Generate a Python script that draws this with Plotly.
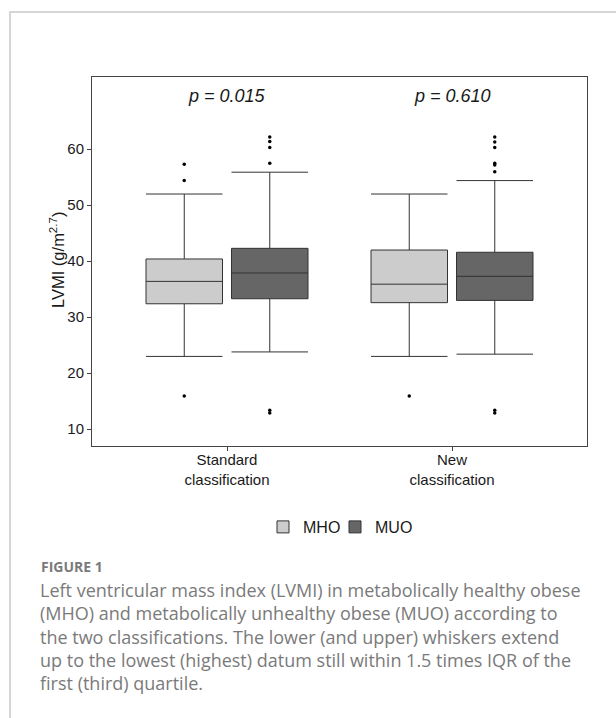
import plotly.graph_objects as go

# ---- data ----
categories = ["Standard<br>classification", "New<br>classification"]
groups = ["MHO", "MUO"]

mho_low = [23.0, 23.0]
mho_q1 = [32.4, 32.6]
mho_median = [36.4, 35.9]
mho_q3 = [40.4, 42.0]
mho_high = [52.0, 52.0]

muo_low = [23.8, 23.4]
muo_q1 = [33.3, 33.0]
muo_median = [37.9, 37.3]
muo_q3 = [42.3, 41.6]
muo_high = [55.9, 54.4]

mho_outliers = [[57.3, 54.4, 15.95], [15.95]]
muo_outliers = [[62.2, 61.4, 60.3, 57.5, 13.4, 12.9],
                [62.2, 61.3, 60.3, 57.5, 57.2, 56.0, 13.4, 12.9]]

p_values = ["p = 0.015", "p = 0.610"]
y_ticks = [10, 20, 30, 40, 50, 60]

caption_title = "FIGURE 1"
caption_lines = [
    "Left ventricular mass index (LVMI) in metabolically healthy obese",
    "(MHO) and metabolically unhealthy obese (MUO) according to",
    "the two classifications. The lower (and upper) whiskers extend",
    "up to the lowest (highest) datum still within 1.5 times IQR of the",
    "first (third) quartile.",
]

# ---- layout constants ----
W, H = 616, 718
L, R, T, B = 92, 587, 77, 446
offset = 0.19
box_w = 0.34
fills = {"MHO": "#cccccc", "MUO": "#666666"}
legend_ids = {"MHO": "legend", "MUO": "legend2"}
legend_x = {"MHO": 263, "MUO": 335}
line_col = "#333333"
axis_font = "Liberation Sans"
cap_font = "Open Sans"
cap_col = "#7a7a7a"

def px_x(px):
    return (px - L) / (R - L)

def px_y(py):
    return (B - py) / (B - T)

idx = list(range(len(categories)))
fig = go.Figure()

stats = {
    "MHO": (mho_low, mho_q1, mho_median, mho_q3, mho_high, mho_outliers, -offset),
    "MUO": (muo_low, muo_q1, muo_median, muo_q3, muo_high, muo_outliers, offset),
}

for g in groups:
    lo, q1, med, q3, hi, outl, off = stats[g]
    xs = [i + off for i in idx]
    fig.add_trace(go.Box(
        name=g, x=xs, q1=q1, median=med, q3=q3,
        lowerfence=lo, upperfence=hi,
        width=box_w, whiskerwidth=1, boxpoints=False,
        fillcolor=fills[g], line=dict(color=line_col, width=1),
        hoverinfo="skip", legend=legend_ids[g],
    ))

for g in groups:
    lo, q1, med, q3, hi, outl, off = stats[g]
    ox, oy = [], []
    for i, vals in zip(idx, outl):
        for v in vals:
            ox.append(i + off)
            oy.append(v)
    fig.add_trace(go.Scatter(
        x=ox, y=oy, mode="markers", showlegend=False,
        marker=dict(color="black", size=3.5), hoverinfo="skip",
    ))

ann = []
for i, p in zip(idx, p_values):
    ann.append(dict(x=i, y=px_y(96), xref="x", yref="paper",
                    text="<i>" + p + "</i>", showarrow=False,
                    font=dict(family=axis_font, size=18, color="#1a1a1a"),
                    xanchor="center", yanchor="middle"))

ann.append(dict(x=px_x(57), y=px_y(260), xref="paper", yref="paper",
                text="LVMI (g/m<sup>2.7</sup>)", textangle=-90, showarrow=False,
                font=dict(family=axis_font, size=16.5, color="#1a1a1a"),
                xanchor="center", yanchor="middle"))

ann.append(dict(x=px_x(39), y=px_y(566), xref="paper", yref="paper",
                text="<b>" + caption_title + "</b>", showarrow=False,
                font=dict(family=cap_font, size=14, color=cap_col),
                xanchor="left", yanchor="middle"))
for k, line in enumerate(caption_lines):
    ann.append(dict(x=px_x(38), y=px_y(590 + k * 23.3), xref="paper", yref="paper",
                    text=line, showarrow=False,
                    font=dict(family=cap_font, size=18, color=cap_col),
                    xanchor="left", yanchor="middle"))

shapes = [dict(type="path", xref="paper", yref="paper",
               path=f"M {px_x(10)} {px_y(H+5)} L {px_x(10)} {px_y(12)} L {px_x(W+5)} {px_y(12)}",
               line=dict(color="#d6d6d6", width=2))]

def legend_cfg(g):
    return dict(orientation="h", x=px_x(legend_x[g]), y=px_y(527),
                xanchor="left", yanchor="middle", bgcolor="rgba(0,0,0,0)",
                font=dict(family=axis_font, size=16, color="#1a1a1a"))

fig.update_layout(
    width=W, height=H,
    margin=dict(l=L, r=W - R, t=T, b=H - B, autoexpand=False),
    paper_bgcolor="white", plot_bgcolor="white",
    boxmode="overlay",
    showlegend=True,
    legend=legend_cfg("MHO"),
    legend2=legend_cfg("MUO"),
    annotations=ann,
    shapes=shapes,
    xaxis=dict(range=[-0.6, 1.6], tickvals=idx, ticktext=categories,
               showline=True, mirror=True, linecolor="#444444", linewidth=1,
               ticks="outside", ticklen=4, tickcolor="#444444",
               ticklabelstandoff=-4,
               showgrid=False, zeroline=False,
               tickfont=dict(family=axis_font, size=15, color="#1a1a1a")),
    yaxis=dict(range=[7.0, 72.9], tickvals=y_ticks,
               showline=True, mirror=True, linecolor="#444444", linewidth=1,
               ticks="outside", ticklen=4, tickcolor="#444444",
               showgrid=False, zeroline=False,
               tickfont=dict(family=axis_font, size=15, color="#1a1a1a")),
)

fig.write_html("out.html", config={"displayModeBar": False},
               post_script="document.body.style.margin='0';")
